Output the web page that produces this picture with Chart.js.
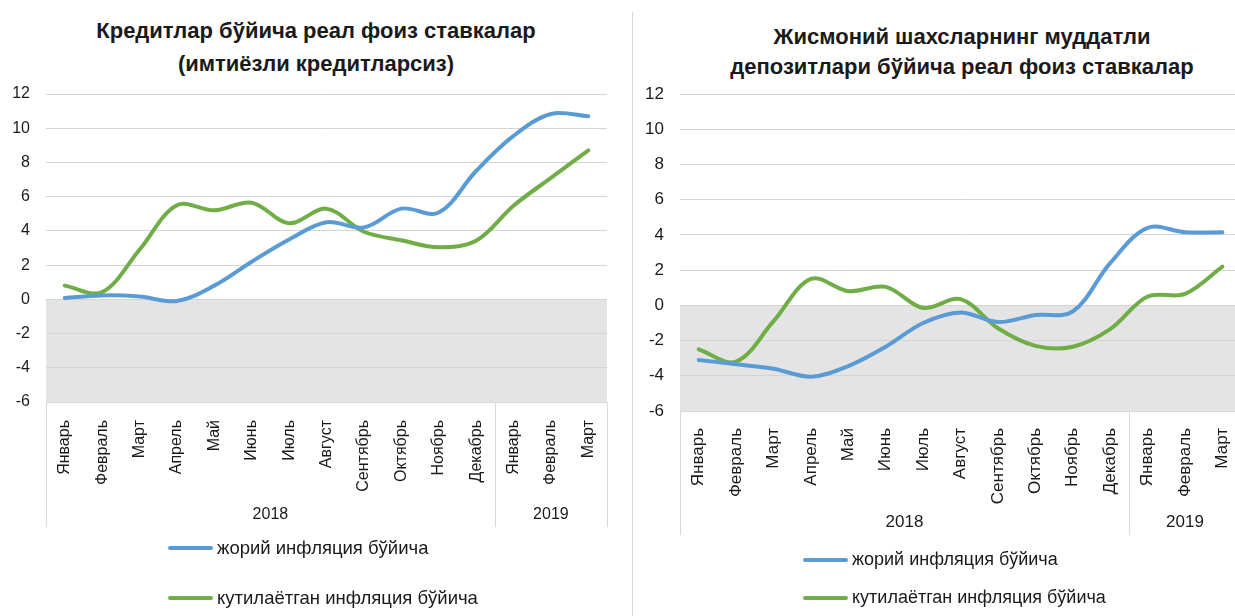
<!DOCTYPE html>
<html>
<head>
<meta charset="utf-8">
<script src="https://cdn.jsdelivr.net/npm/chart.js@4/dist/chart.umd.min.js"></script>
<style>
  html, body { margin: 0; padding: 0; background: #fff; }
  body { width: 1235px; height: 616px; overflow: hidden; position: relative; font-family: "Liberation Sans", Arial, sans-serif; color: #1a1a1a; }
  canvas { position: absolute; top: 0; }
  .title { position: absolute; font-weight: bold; font-size: 22px; text-align: center; line-height: 33px; white-space: nowrap; }
  .leg { position: absolute; font-size: 18.5px; white-space: nowrap; display: flex; align-items: center; }
  .leg span { display: inline-block; width: 45px; height: 4px; border-radius: 2px; margin-right: 4px; }
  #divider { position: absolute; left: 632px; top: 12px; width: 1px; height: 604px; background: #d9d9d9; }
</style>
</head>
<body>
<div class="title" style="left:16px; width:600px; top:14px;">Кредитлар бўйича реал фоиз ставкалар<br>(имтиёзли кредитларсиз)</div>
<div class="title" style="left:662px; width:600px; top:22px; line-height:30px;">Жисмоний шахсларнинг муддатли<br>депозитлари бўйича реал фоиз ставкалар</div>
<div id="divider"></div>
<canvas id="loans" width="632" height="616" style="left:0"></canvas>
<canvas id="deposits" width="620" height="616" style="left:632px"></canvas>
<div class="leg" style="left:168px; top:537px;"><span style="background:#5b9bd5"></span>жорий инфляция бўйича</div>
<div class="leg" style="left:168px; top:587px;"><span style="background:#70ad47"></span>кутилаётган инфляция бўйича</div>
<div class="leg" style="left:803px; top:549px; font-size:18px;"><span style="background:#5b9bd5"></span>жорий инфляция бўйича</div>
<div class="leg" style="left:803px; top:587px; font-size:18px;"><span style="background:#70ad47"></span>кутилаётган инфляция бўйича</div>
<script>
const months = ['Январь', 'Февраль', 'Март', 'Апрель', 'Май', 'Июнь', 'Июль', 'Август', 'Сентябрь', 'Октябрь', 'Ноябрь', 'Декабрь', 'Январь', 'Февраль', 'Март'];
const years = ['2018', '2019'];
const yearSpan = [12, 3];
const seriesNames = ['жорий инфляция бўйича', 'кутилаётган инфляция бўйича'];

const loansCurrent = [0.08, 0.23, 0.17, -0.1, 0.8, 2.2, 3.5, 4.5, 4.2, 5.3, 5.07, 7.5, 9.55, 10.83, 10.7];
const loansExpected = [0.8, 0.42, 2.9, 5.5, 5.2, 5.65, 4.45, 5.3, 3.95, 3.45, 3.04, 3.43, 5.47, 7.1, 8.7];

const depositsCurrent = [-3.1, -3.35, -3.6, -4.05, -3.45, -2.35, -1.0, -0.4, -0.95, -0.55, -0.35, 2.4, 4.4, 4.15, 4.15];
const depositsExpected = [-2.5, -3.2, -0.9, 1.5, 0.8, 1.05, -0.15, 0.35, -1.3, -2.3, -2.35, -1.35, 0.5, 0.65, 2.2];

const FONT = '"Liberation Sans", Arial, sans-serif';

// grey band below zero, drawn under the grid
const negativeZone = {
    id: 'negativeZone',
    beforeDraw(chart) {
        const { ctx, chartArea, scales } = chart;
        const y0 = scales.y.getPixelForValue(0);
        ctx.save();
        ctx.fillStyle = '#e4e4e4';
        ctx.fillRect(chartArea.left, y0, chartArea.right - chartArea.left, chartArea.bottom - y0);
        ctx.restore();
    }
};

// second level of the category axis: year groups
const yearGroups = {
    id: 'yearGroups',
    afterDraw(chart, args, opts) {
        const { ctx, chartArea, scales } = chart;
        const x = scales.x;
        const step = x.getPixelForValue(1) - x.getPixelForValue(0);
        ctx.save();
        ctx.strokeStyle = '#d9d9d9';
        ctx.lineWidth = 1;
        ctx.fillStyle = '#1a1a1a';
        ctx.font = opts.fontSize + 'px ' + FONT;
        ctx.textAlign = 'center';
        ctx.textBaseline = 'middle';
        let start = 0;
        const edges = [chartArea.left];
        years.forEach((yr, i) => {
            const end = start + yearSpan[i] - 1;
            const left = x.getPixelForValue(start) - step / 2;
            const right = x.getPixelForValue(end) + step / 2;
            edges.push(right);
            ctx.fillText(yr, (left + right) / 2, opts.labelY);
            start = end + 1;
        });
        edges.forEach(px => {
            ctx.beginPath();
            ctx.moveTo(Math.round(px) + 0.5, chartArea.bottom);
            ctx.lineTo(Math.round(px) + 0.5, opts.lineEnd);
            ctx.stroke();
        });
        ctx.restore();
    }
};

function makeChart(id, current, expected, cfg) {
    const ctx = document.getElementById(id).getContext('2d');
    return new Chart(ctx, {
        type: 'line',
        data: {
            labels: months,
            datasets: [{
                label: seriesNames[0],
                data: current,
                borderColor: '#5b9bd5',
                borderWidth: 4,
                pointRadius: 0,
                tension: 0.35,
                borderCapStyle: 'round'
            }, {
                label: seriesNames[1],
                data: expected,
                borderColor: '#70ad47',
                borderWidth: 4,
                pointRadius: 0,
                tension: 0.35,
                borderCapStyle: 'round'
            }]
        },
        options: {
            responsive: false,
            animation: false,
            layout: { padding: { left: 0, right: cfg.right, top: 94, bottom: cfg.bottom } },
            plugins: {
                legend: { display: false },
                tooltip: { enabled: false },
                yearGroups: { labelY: cfg.yearY, lineEnd: cfg.lineEnd, fontSize: cfg.fontSize }
            },
            scales: {
                x: {
                    offset: true,
                    grid: { display: false },
                    border: { display: true, color: '#d9d9d9' },
                    ticks: {
                        autoSkip: false, minRotation: 90, maxRotation: 90, padding: cfg.tickPad,
                        color: '#1a1a1a', font: { family: FONT, size: cfg.xFont }
                    },
                    afterFit(scale) { scale.height = 130; }
                },
                y: {
                    min: -6, max: 12,
                    grid: { color: '#d4d4d4', drawTicks: false },
                    border: { display: false },
                    ticks: { stepSize: 2, padding: 16, color: '#1a1a1a', font: { family: FONT, size: cfg.fontSize } },
                    afterFit(scale) { scale.width = cfg.axisW; }
                }
            }
        },
        plugins: [negativeZone, yearGroups]
    });
}

document.addEventListener('DOMContentLoaded', () => {
    makeChart('loans', loansCurrent, loansExpected, { right: 25, bottom: 84, axisW: 46, yearY: 515, lineEnd: 527, fontSize: 16, xFont: 16, tickPad: 10 });
    makeChart('deposits', depositsCurrent, depositsExpected, { right: 6, bottom: 75, axisW: 48, yearY: 522, lineEnd: 535, fontSize: 17, xFont: 17, tickPad: 9 });
});
</script>
</body>
</html>
